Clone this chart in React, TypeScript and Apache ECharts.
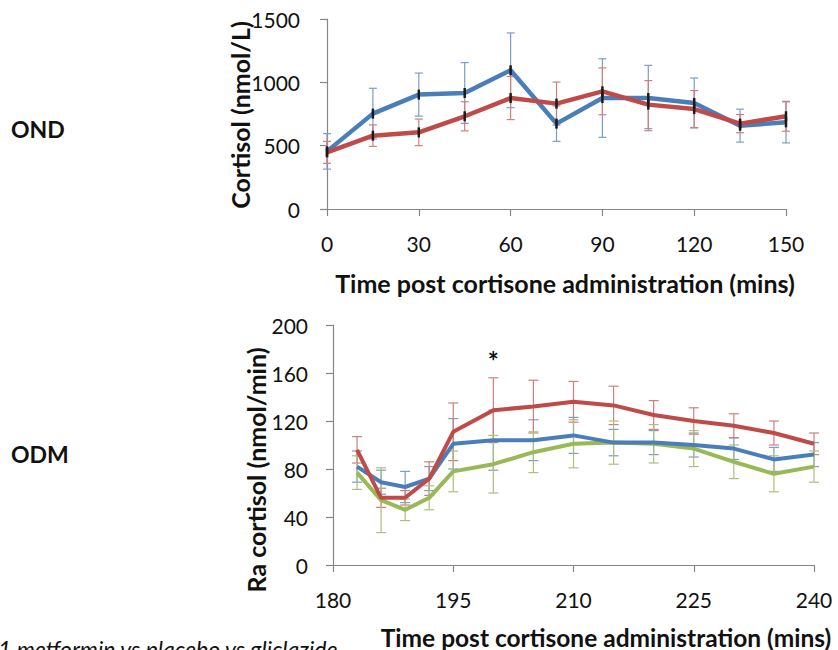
import React, { useEffect, useRef } from "react";
import * as echarts from "echarts";

// ---- Top chart (OND) ----
const topTimes = [0, 15, 30, 45, 60, 75, 90, 105, 120, 135, 150];
const topBlue = [455, 753, 903, 916, 1095, 674, 876, 876, 837, 658, 684];
const topBlueErr = [140, 200, 170, 240, 295, 140, 310, 258, 197, 130, 162];
const topRed = [447, 579, 605, 732, 876, 832, 929, 824, 789, 674, 732];
const topRedErr = [87, 85, 105, 115, 170, 170, 185, 190, 146, 72, 118];

// ---- Bottom chart (ODM) ----
const botTimes = [183, 186, 189, 192, 195, 200, 205, 210, 215, 220, 225, 230, 235, 240];
const botRed = [96, 56, 56, 72, 111, 129, 132, 136, 133, 125, 120, 116, 110, 101];
const botRedErr = [11, 8, 6, 14, 24, 27, 22, 17, 16, 12, 11, 10, 10, 9];
const botBlue = [82, 69, 65, 72, 101, 104, 104, 108, 102, 102, 100, 97, 88, 92];
const botBlueErr = [13, 10, 13, 10, 21, 25, 17, 15, 11, 10, 10, 9, 10, 10];
const botGreen = [77, 54, 46, 56, 78, 84, 94, 101, 102, 101, 97, 86, 76, 82];
const botGreenErr = [14, 27, 9, 10, 17, 24, 17, 20, 18, 16, 15, 14, 15, 13];

const annotations = [{ x: 200, y: 170, text: "*" }];

const BLUE = "#4a7ebb";
const RED = "#be4b48";
const GREEN = "#98b954";
const BLUE_E = "#7d9cc6";
const RED_E = "#cf7f7d";
const GREEN_E = "#aebf7c";
const AXIS = "#868686";
const FONT = "Lato, 'Liberation Sans', sans-serif";

function pairs(xs: number[], ys: number[]) {
  return xs.map((x, i) => [x, ys[i]]);
}
function errData(xs: number[], ys: number[], es: number[]) {
  return xs.map((x, i) => [x, ys[i] - es[i], ys[i] + es[i]]);
}

function errSeries(idx: number, data: number[][], color: string, hw: number) {
  return {
    type: "custom",
    xAxisIndex: idx,
    yAxisIndex: idx,
    z: 2,
    data,
    renderItem: (_p: any, api: any) => {
      const x = api.value(0);
      const lo = api.value(1);
      const hi = api.value(2);
      const a = api.coord([x, hi]);
      const b = api.coord([x, lo]);
      const st = { stroke: color, lineWidth: 1.2 };
      return {
        type: "group",
        children: [
          { type: "line", shape: { x1: a[0], y1: a[1], x2: b[0], y2: b[1] }, style: st },
          { type: "line", shape: { x1: a[0] - hw, y1: a[1], x2: a[0] + hw, y2: a[1] }, style: st },
          { type: "line", shape: { x1: b[0] - hw, y1: b[1], x2: b[0] + hw, y2: b[1] }, style: st },
        ],
      };
    },
  };
}

function lineSeries(idx: number, data: number[][], color: string, width: number, marker: boolean) {
  return {
    type: "line",
    xAxisIndex: idx,
    yAxisIndex: idx,
    z: 5,
    data,
    lineStyle: { color, width },
    itemStyle: { color: "#1a1a1a" },
    symbol: marker ? "rect" : "none",
    symbolSize: [2.5, 10],
    showSymbol: marker,
  };
}

const axisCommon = {
  axisLine: { show: true, lineStyle: { color: AXIS, width: 1.2 } },
  axisTick: { show: true, length: 7, lineStyle: { color: AXIS, width: 1.2 } },
  splitLine: { show: false },
  axisLabel: {
    color: "#111",
    fontFamily: FONT,
    fontSize: 21,
    formatter: (v: number) => String(v),
  },
};

export default function App() {
  const ref = useRef<HTMLDivElement>(null);
  useEffect(() => {
    if (!ref.current) return;
    const chart = echarts.init(ref.current, null, { renderer: "svg" });
    chart.setOption({
      animation: false,
      backgroundColor: "#ffffff",
      grid: [
        { left: 327, right: 52, top: 19, height: 190 },
        { left: 333, right: 24, top: 325, height: 240 },
      ],
      xAxis: [
        {
          ...axisCommon,
          gridIndex: 0,
          type: "value",
          min: 0,
          max: 150,
          interval: 30,
          axisLabel: { ...axisCommon.axisLabel, margin: 24 },
        },
        {
          ...axisCommon,
          gridIndex: 1,
          type: "value",
          min: 180,
          max: 240,
          interval: 15,
          axisLabel: { ...axisCommon.axisLabel, margin: 24 },
        },
      ],
      yAxis: [
        {
          ...axisCommon,
          gridIndex: 0,
          type: "value",
          min: 0,
          max: 1500,
          interval: 500,
          axisLabel: { ...axisCommon.axisLabel, margin: 27 },
        },
        {
          ...axisCommon,
          gridIndex: 1,
          type: "value",
          min: 0,
          max: 200,
          interval: 40,
          axisLabel: { ...axisCommon.axisLabel, margin: 25 },
        },
      ],
      series: [
        errSeries(0, errData(topTimes, topBlue, topBlueErr), BLUE_E, 4),
        errSeries(0, errData(topTimes, topRed, topRedErr), RED_E, 4),
        lineSeries(0, pairs(topTimes, topBlue), BLUE, 4.5, true),
        lineSeries(0, pairs(topTimes, topRed), RED, 4.5, true),
        errSeries(1, errData(botTimes, botBlue, botBlueErr), BLUE_E, 5),
        errSeries(1, errData(botTimes, botRed, botRedErr), RED_E, 5),
        errSeries(1, errData(botTimes, botGreen, botGreenErr), GREEN_E, 5),
        lineSeries(1, pairs(botTimes, botGreen), GREEN, 4, false),
        lineSeries(1, pairs(botTimes, botBlue), BLUE, 4, false),
        lineSeries(1, pairs(botTimes, botRed), RED, 4, false),
        {
          type: "custom",
          xAxisIndex: 1,
          yAxisIndex: 1,
          z: 6,
          data: annotations.map((a) => [a.x, a.y]),
          renderItem: (p: any, api: any) => {
            const c = api.coord([api.value(0), api.value(1)]);
            return {
              type: "text",
              x: c[0],
              y: c[1],
              style: {
                text: annotations[p.dataIndex].text,
                font: `bold 26px ${FONT}`,
                fill: "#111",
                align: "center",
                verticalAlign: "middle",
              },
            };
          },
        },
      ],
      graphic: [
        {
          type: "text",
          left: 11,
          top: 117,
          style: { text: "OND", font: `bold 23px ${FONT}`, fill: "#111" },
        },
        {
          type: "text",
          left: 11,
          top: 442,
          style: { text: "ODM", font: `bold 23px ${FONT}`, fill: "#111" },
        },
        {
          type: "text",
          x: 565,
          y: 283,
          style: {
            text: "Time post cortisone administration (mins)",
            font: `bold 25px ${FONT}`,
            fill: "#111",
            align: "center",
            verticalAlign: "middle",
          },
        },
        {
          type: "text",
          x: 606,
          y: 637,
          style: {
            text: "Time post cortisone administration (mins)",
            font: `bold 24.5px ${FONT}`,
            fill: "#111",
            align: "center",
            verticalAlign: "middle",
          },
        },
        {
          type: "text",
          x: 240,
          y: 115,
          rotation: Math.PI / 2,
          style: {
            text: "Cortisol (nmol/L)",
            font: `bold 25px ${FONT}`,
            fill: "#111",
            align: "center",
            verticalAlign: "middle",
          },
        },
        {
          type: "text",
          x: 256,
          y: 470,
          rotation: Math.PI / 2,
          style: {
            text: "Ra cortisol (nmol/min)",
            font: `bold 25px ${FONT}`,
            fill: "#111",
            align: "center",
            verticalAlign: "middle",
          },
        },
        {
          type: "text",
          left: -2,
          top: 637,
          style: { text: "1 metformin vs placebo vs gliclazide", font: `italic 23px ${FONT}`, fill: "#111" },
        },
      ],
    });
    return () => chart.dispose();
  }, []);
  return (
    <div
      ref={ref}
      style={{ position: "fixed", left: 0, top: 0, width: 838, height: 650 }}
    />
  );
}
